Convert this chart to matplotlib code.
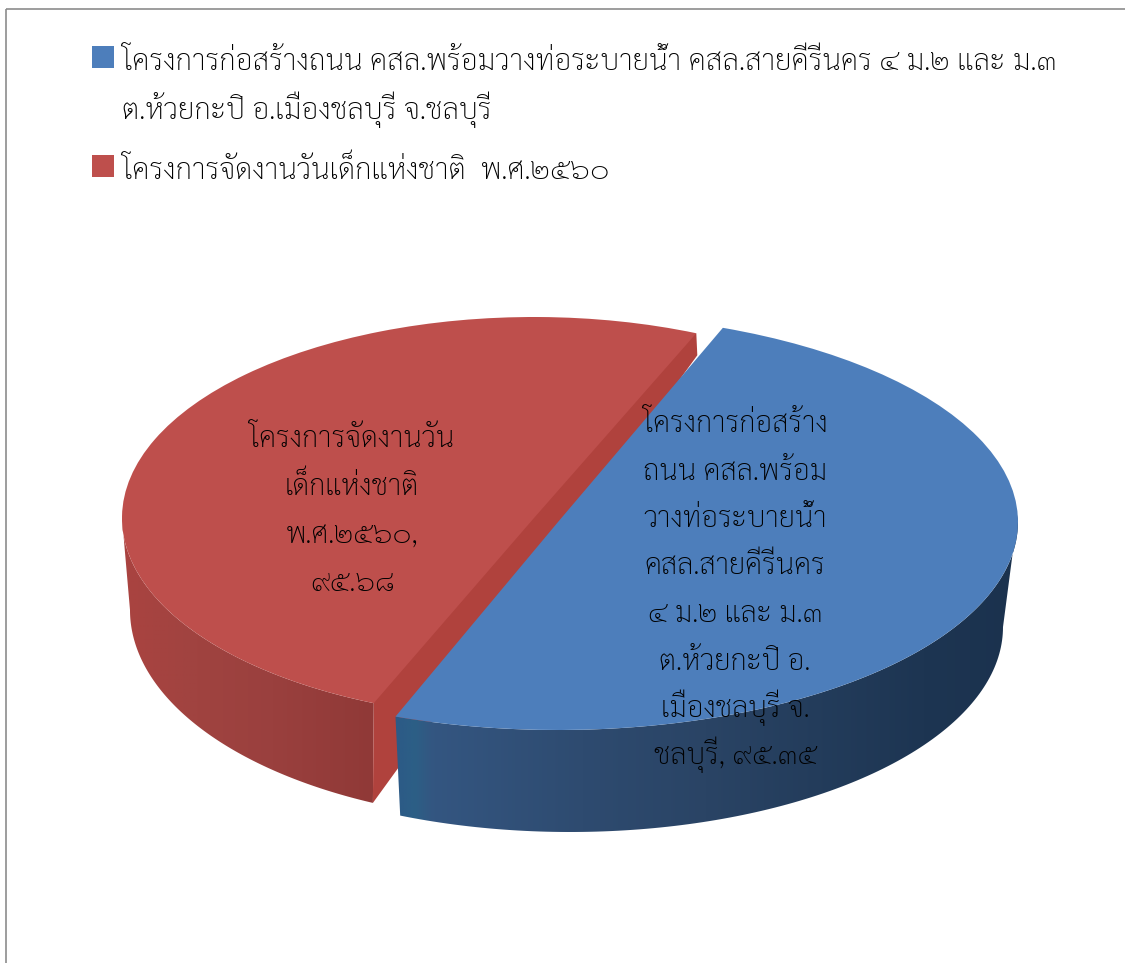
import numpy as np
import matplotlib
matplotlib.use('Agg')
import matplotlib.pyplot as plt
from matplotlib.colors import LinearSegmentedColormap
from matplotlib.patches import Polygon, Rectangle
from matplotlib.transforms import Affine2D

plt.rcParams['font.family'] = ['Sarabun', 'DejaVu Sans']
plt.rcParams['font.weight'] = 'light'

legend_lines = [
    ['โครงการก่อสร้างถนน คสล.พร้อมวางท่อระบายน้ำ คสล.สายคีรีนคร ๔ ม.๒ และ ม.๓',
     'ต.ห้วยกะปิ อ.เมืองชลบุรี จ.ชลบุรี'],
    ['โครงการจัดงานวันเด็กแห่งชาติ  พ.ศ.๒๕๖๐'],
]
blue_label = ['โครงการก่อสร้าง', 'ถนน คสล.พร้อม', 'วางท่อระบายน้ำ', 'คสล.สายคีรีนคร',
              '๔ ม.๒ และ ม.๓', 'ต.ห้วยกะปิ อ.', 'เมืองชลบุรี จ.']
red_label = ['โครงการจัดงานวัน', 'เด็กแห่งชาติ', 'พ.ศ.๒๕๖๐,']
values = [95.35, 95.68]
colors = ['#4d7ebb', '#be4f4c']

# ellipses of the two slices: top surface and bottom rim (cx, cy, a, b)
blue_top = (558, 522, 460, 208)
blue_bot = (570, 627, 433, 205)
red_top = (534, 518, 412, 201)
red_bot = (545, 610, 415, 212)


def thai_num(v):
    return str(v).translate(str.maketrans('0123456789', '๐๑๒๓๔๕๖๗๘๙'))


def arc(e, t0, t1, n=120):
    t = np.radians(np.linspace(t0, t1, n))
    return np.column_stack([e[0] + e[2] * np.cos(t), e[1] - e[3] * np.sin(t)])


def gradient_fill(ax, pts, cmap, z):
    x0, x1 = pts[:, 0].min(), pts[:, 0].max()
    y0, y1 = pts[:, 1].min(), pts[:, 1].max()
    im = ax.imshow(np.linspace(0, 1, 256)[None, :], cmap=cmap, aspect='auto',
                   extent=(x0, x1, y1, y0), zorder=z, interpolation='bilinear')
    clip = Polygon(pts, closed=True, transform=ax.transData)
    im.set_clip_path(clip)


fig = plt.figure(figsize=(11.25, 9.63), dpi=100)
ax = fig.add_axes([0, 0, 1, 1])

start = 69
wedges, _ = ax.pie(values, colors=colors, startangle=start, counterclock=False)
blue_w, red_w = wedges
blue_w.set_transform(Affine2D().scale(blue_top[2], -blue_top[3])
                     .translate(blue_top[0], blue_top[1]) + ax.transData)
red_shift = -2.2
red_w.set_transform(Affine2D().rotate_deg(red_shift).scale(red_top[2], -red_top[3])
                    .translate(red_top[0], red_top[1]) + ax.transData)
blue_w.set_zorder(6)
red_w.set_zorder(3)

# angles of the cut line follow from the values
sweep = 360 * values[0] / sum(values)
blue_end = start - sweep
red_start = start + red_shift
red_end = blue_end + red_shift

# side wall of the blue slice
pts = np.vstack([arc(blue_top, 2, blue_end), arc(blue_bot, blue_end - 2.4, 0)])
blue_cmap = LinearSegmentedColormap.from_list('bw', [
    (0, '#2c5a86'), (0.03, '#2c5f86'), (0.06, '#345681'), (0.3, '#2e4b70'),
    (0.5, '#2a4465'), (0.85, '#1d3552'), (1, '#1b324e')])
gradient_fill(ax, pts, blue_cmap, 5)

# side wall of the red slice
pts = np.vstack([arc(red_top, 180, 360 + red_end), arc(red_bot, 245.5, 180)])
red_cmap = LinearSegmentedColormap.from_list('rw', [
    (0, '#aa4340'), (0.3, '#a04340'), (0.6, '#9a403e'), (1, '#903937')])
gradient_fill(ax, pts, red_cmap, 2)

# cut face of the red slice, seen along the gap
corner_hi = arc(red_top, red_start, red_start, 1)[0]
corner_lo = arc(red_top, 360 + red_end, 360 + red_end, 1)[0]
bottom = arc(red_bot, 245.5, 245.5, 1)[0]
face = np.array([corner_hi + [-6, 3], corner_hi, corner_hi + [1, 22], bottom,
                 corner_lo, corner_lo + [-2, -6]])
ax.add_patch(Polygon(face, closed=True, facecolor='#b0423d', edgecolor='none', zorder=2.5))

# outer frame, only the top and left edges are inside the canvas
ax.add_patch(Rectangle((6, 9), 1300, 1100, fill=False, edgecolor='#8c8c8c', linewidth=1.2, zorder=1))

# legend
fs_legend = 21.3
ax.add_patch(Rectangle((92, 46), 22, 22, facecolor=colors[0], edgecolor='none', zorder=7))
ax.add_patch(Rectangle((92, 155), 22, 22, facecolor=colors[1], edgecolor='none', zorder=7))
ax.text(122, 71, legend_lines[0][0], fontsize=fs_legend, color='black', zorder=8)
ax.text(122, 119, legend_lines[0][1], fontsize=fs_legend, color='black', zorder=8)
ax.text(122, 179, legend_lines[1][0], fontsize=fs_legend, color='black', zorder=8)

# data labels
fs_label = 21
y = 447
for line in red_label + [thai_num(values[1])]:
    ax.text(352, y, line, ha='center', fontsize=fs_label, color='black', zorder=8)
    y += 48
y = 432
for line in blue_label + ['ชลบุรี, ' + thai_num(values[0])]:
    ax.text(735, y, line, ha='center', fontsize=fs_label, color='black', zorder=8)
    y += 47.5

ax.set_aspect('auto')
ax.set_xlim(0, 1125)
ax.set_ylim(963, 0)
ax.set_axis_off()
plt.savefig('out.png', dpi=100)
